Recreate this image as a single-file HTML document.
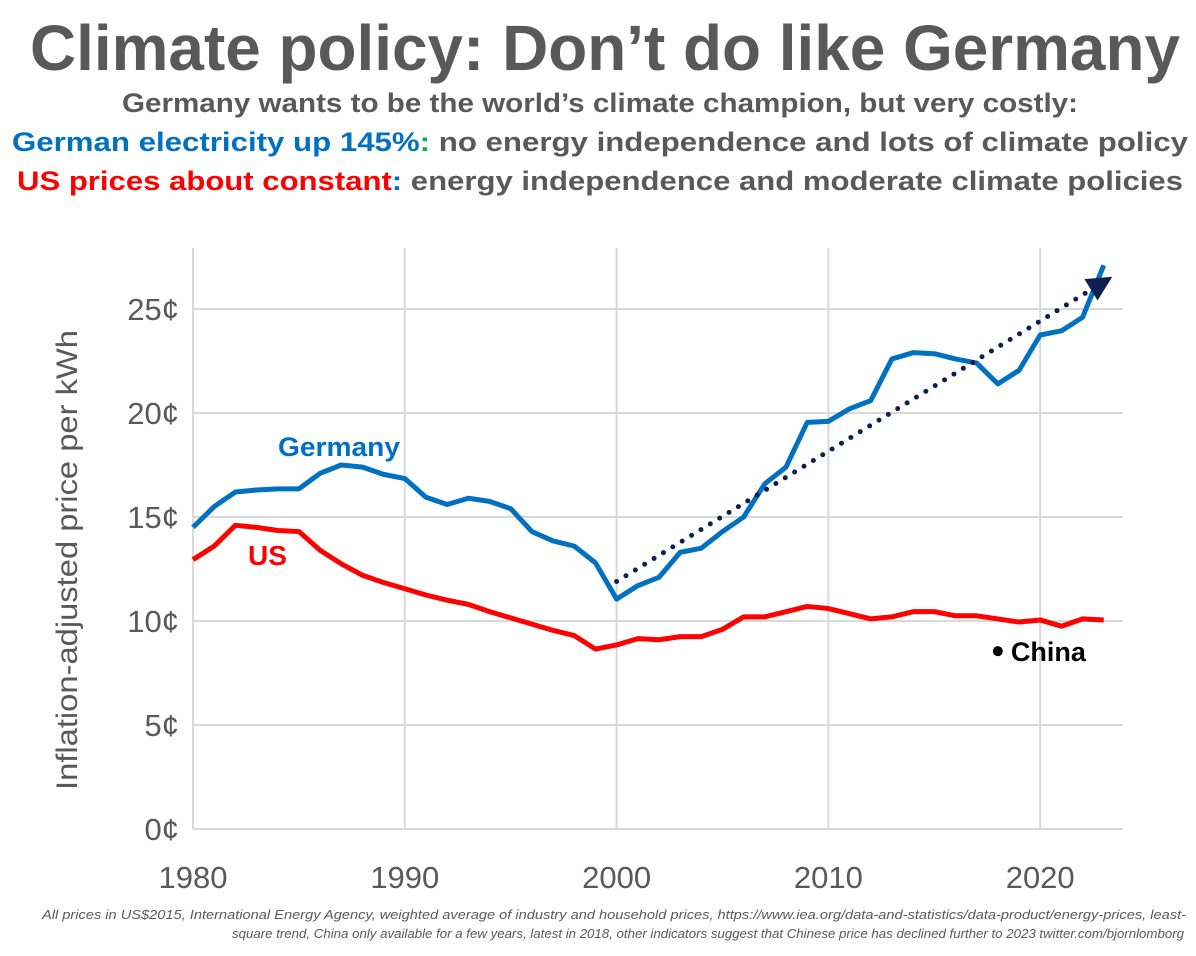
<!DOCTYPE html>
<html><head><meta charset="utf-8"><style>
body{margin:0;background:#fff;width:1196px;height:951px;overflow:hidden;font-family:"Liberation Sans",sans-serif}
</style></head><body>
<svg width="1196" height="951" style="font-family:'Liberation Sans',sans-serif">
<text x="30" y="70" textLength="1150" lengthAdjust="spacingAndGlyphs" font-size="64" font-weight="bold" fill="#595959">Climate policy: Don’t do like Germany</text>
<text x="122" y="112" textLength="956" lengthAdjust="spacingAndGlyphs" font-size="27" font-weight="bold" fill="#595959">Germany wants to be the world’s climate champion, but very costly:</text>
<text x="12" y="151" textLength="1176" lengthAdjust="spacingAndGlyphs" font-size="27" font-weight="bold" fill="#595959"><tspan fill="#0070c0">German electricity up 145%</tspan><tspan fill="#00b050">:</tspan> no energy independence and lots of climate policy</text>
<text x="17" y="190" textLength="1166" lengthAdjust="spacingAndGlyphs" font-size="27" font-weight="bold" fill="#595959"><tspan fill="#ff0000">US prices about constant</tspan><tspan fill="#0070c0">:</tspan> energy independence and moderate climate policies</text>
<g id="grid"></g>
<g id="marks"></g>
<text transform="translate(77,560) rotate(-90)" text-anchor="middle" textLength="460" lengthAdjust="spacingAndGlyphs" font-size="30" fill="#595959">Inflation-adjusted price per kWh</text>
<text x="42" y="919" textLength="1144" lengthAdjust="spacingAndGlyphs" font-size="13" font-style="italic" fill="#595959">All prices in US$2015, International Energy Agency, weighted average of industry and household prices, https://www.iea.org/data-and-statistics/data-product/energy-prices, least-</text>
<text x="232" y="938" textLength="952" lengthAdjust="spacingAndGlyphs" font-size="13" font-style="italic" fill="#595959">square trend, China only available for a few years, latest in 2018, other indicators suggest that Chinese price has declined further to 2023 twitter.com/bjornlomborg</text>
</svg>
<script>
const years=[];for(let y=1980;y<=2023;y++)years.push(y);
const germany=[14.5,15.5,16.2,16.3,16.35,16.35,17.1,17.5,17.4,17.05,16.85,15.95,15.6,15.9,15.75,15.4,14.3,13.85,13.6,12.8,11.05,11.7,12.1,13.3,13.5,14.3,15.0,16.6,17.4,19.55,19.6,20.2,20.6,22.6,22.9,22.85,22.6,22.4,21.4,22.05,23.75,23.95,24.6,27.1];
const us=[12.95,13.6,14.6,14.5,14.35,14.3,13.4,12.75,12.2,11.85,11.55,11.25,11.0,10.8,10.45,10.15,9.85,9.55,9.3,8.65,8.85,9.15,9.1,9.25,9.25,9.6,10.2,10.2,10.45,10.7,10.6,10.35,10.1,10.2,10.45,10.45,10.25,10.25,10.1,9.95,10.05,9.75,10.1,10.05];
const chinaPoint=[2018,8.55];
const trendYears=[2000,2023];
const trendValues=[11.9,26.3];
const yTicks=[0,5,10,15,20,25];
const xTicks=[1980,1990,2000,2010,2020];
const NS='http://www.w3.org/2000/svg';
const X=y=>193+(y-1980)*21.18;
const Y=v=>829-v*20.8;
function mk(p,tag,a){const e=document.createElementNS(NS,tag);for(const k in a)e.setAttribute(k,a[k]);p.appendChild(e);return e;}
const g=document.getElementById('grid'),m=document.getElementById('marks');
yTicks.forEach(t=>{
 const l=mk(g,'line',{x1:193,x2:1123,y1:Y(t),y2:Y(t),stroke:'#d9d9d9','stroke-width':2});
 
 
 const tx=mk(g,'text',{x:179,y:Y(t)+11,'text-anchor':'end','font-size':31,fill:'#595959'});tx.textContent=t+'¢';
 
 
});
xTicks.forEach(t=>{
 const l=mk(g,'line',{x1:X(t),x2:X(t),y1:248,y2:829,stroke:'#d9d9d9','stroke-width':2});
 
 
 const tx=mk(g,'text',{x:X(t),y:888,'text-anchor':'middle','font-size':31,fill:'#595959'});tx.textContent=t;
 
 
});
const defs=mk(m,'defs',{});const mkr=mk(defs,'marker',{id:'ah',markerWidth:5,markerHeight:5,refX:3,refY:2.5,orient:'auto',markerUnits:'strokeWidth'});
mk(mkr,'path',{d:'M0,0 L5,2.5 L0,5 Z',fill:'#0d1f4f'});
const pts=a=>a.map((v,i)=>X(years[i])+','+Y(v)).join(' ');
const us_l=mk(m,'polyline',{points:pts(us),fill:'none',stroke:'#ff0000','stroke-width':5,'stroke-linejoin':'round'});


const de_l=mk(m,'polyline',{points:pts(germany),fill:'none',stroke:'#0070c0','stroke-width':5,'stroke-linejoin':'round'});


const tr=mk(m,'line',{x1:X(trendYears[0]),y1:Y(trendValues[0]),x2:X(trendYears[1]),y2:Y(trendValues[1]),stroke:'#0d1f4f','stroke-width':5,'stroke-dasharray':'0 11','stroke-linecap':'round','marker-end':'url(#ah)'});


const c=mk(m,'circle',{cx:X(chinaPoint[0]),cy:Y(chinaPoint[1]),r:5,fill:'#000'});


const ct=mk(m,'text',{x:X(chinaPoint[0])+13,y:Y(chinaPoint[1])+10,'font-size':27,'font-weight':'bold',fill:'#000'});ct.textContent='China';


const gl=mk(m,'text',{x:278,y:456,'font-size':27,'font-weight':'bold',fill:'#0070c0',textLength:122,lengthAdjust:'spacingAndGlyphs'});gl.textContent='Germany';


const ul=mk(m,'text',{x:248,y:565,'font-size':28,'font-weight':'bold',fill:'#ff0000'});ul.textContent='US';


</script>
</body></html>
